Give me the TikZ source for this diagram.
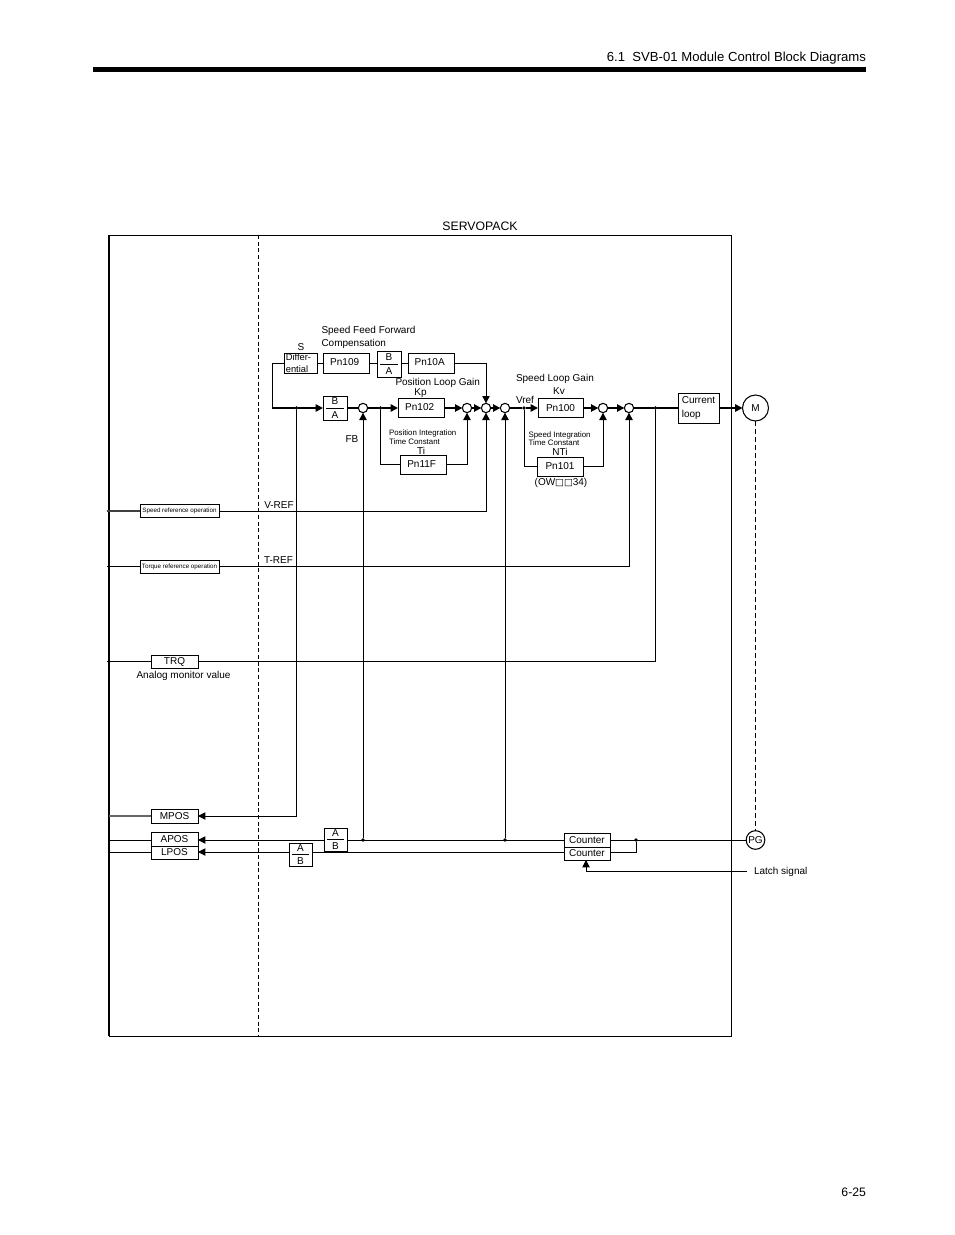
\documentclass[tikz,border=0pt]{standalone}
\usepackage{fontspec}
\setmainfont{Liberation Sans}
\newfontfamily\symfont{DejaVu Sans}
\usetikzlibrary{arrows.meta}
\newcommand\fsz[1]{\fontsize{#1}{#1}\selectfont}
\newcommand\nudge[1]{\raisebox{1.3pt}{#1}\hspace{2pt}}
\tikzset{
  base/.style={line width=0.75pt},
  thickline/.style={line width=1.2pt},
  arrow/.style={-{Triangle[length=5.5pt,width=5.5pt]}},
  box/.style={draw,fill=white,line width=0.7pt,inner sep=0pt,outer sep=0pt,align=left,font=\fsz{7.5}},
  fracbox/.style={box,align=center,font=\fsz{7.5},path picture={\draw[line width=0.6pt] ([xshift=-6.5pt]path picture bounding box.center) -- ([xshift=6.5pt]path picture bounding box.center);}},
  junction/.style={circle,draw,fill=white,line width=0.8pt,inner sep=0pt,outer sep=0pt,minimum size=7pt},
  dotn/.style={circle,fill=black,inner sep=0pt,outer sep=0pt,minimum size=2.8pt},
  lbl/.style={inner sep=0pt,outer sep=0pt,font=\fsz{7.5},align=center,yshift=-0.6pt},
  lblsmall/.style={lbl,font=\fsz{5.9}},
  lbllarge/.style={lbl,font=\fsz{9.2}},
  lblhead/.style={lbl,font=\fsz{9.85}},
  motor/.style={circle,draw,fill=white,line width=0.8pt,inner sep=0pt,outer sep=0pt,font=\fsz{7.5}},
}
\newcommand\bx[7][box]{\node[#1,minimum width={(#5-#3)*0.75pt},minimum height={(#6-#4)*0.75pt}] (#2) at ({(#3+#5)/2},{(#4+#6)/2}) {#7};}
\begin{document}
\begin{tikzpicture}[x=0.75pt,y=-0.75pt]
\useasboundingbox (0,0) rectangle (954,1235);
\fill[white] (0,0) rectangle (954,1235);
% page furniture
\node[lblhead,anchor=east] (header) at (866,57) {6.1\ \ SVB-01 Module Control Block Diagrams};
\fill[black] (93,67) rectangle (866,72);
\node[lbllarge,anchor=east] (pageno) at (866,1191) {6-25};
% frame
\draw[line width=0.75pt] (109,235) -- (731,235) -- (731,1036) -- (109,1036);
\draw[line width=1.5pt] (109,235) -- (109,1036);
\draw[line width=0.75pt,dash pattern=on 3pt off 2pt] (258.5,235) -- (258.5,1036);
\node[lbllarge] (servopack) at (480,225) {SERVOPACK};
% top row
\bx{diff}{284}{353}{317}{373}{\raisebox{-3.4pt}{\hspace{1pt}\parbox{23pt}{\fsz{7}\baselineskip=9.3pt Differ-\\ential}}}
\bx{pn109}{323}{353}{369}{373}{\nudge{Pn109}}
\bx[fracbox]{ba1}{377}{351}{401}{377}{B\\[2.5pt]A}
\bx{pn10a}{408}{353}{454}{373}{\nudge{Pn10A}}
% main row
\bx[fracbox]{ba2}{323}{396}{347}{420}{B\\[2.5pt]A}
\bx{pn102}{398}{398.5}{444}{417.5}{\nudge{Pn102}}
\bx{pn11f}{400}{455}{446}{474}{\nudge{Pn11F}}
\bx{pn100}{538}{398.5}{583}{417.5}{Pn100}
\bx{pn101}{537}{457}{583}{476}{Pn101}
\bx{cloop}{678}{393}{719}{423}{Current\\[3pt]loop}
\node[junction] (j1) at (363,408) {};
\node[junction] (j2) at (467,408) {};
\node[junction] (j3) at (486,408) {};
\node[junction] (j4) at (505,408) {};
\node[junction] (j5) at (603,408) {};
\node[junction] (j6) at (629,408) {};
\node[motor,minimum size=19.5pt] (m) at (755.5,408) {M};
\node[motor,minimum size=14pt] (pg) at (755.5,840) {PG};
% left column boxes
\bx{vbox}{140}{504}{219}{517}{\fsz{4.7}Speed reference operation}
\bx{tbox}{140}{560}{219}{573}{\fsz{4.7}Torque reference operation}
\bx{trq}{151}{655}{198}{668}{TRQ}
\bx{mpos}{151}{809}{198}{823}{MPOS}
\bx{apos}{151}{832}{198}{846}{APOS}
\bx{lpos}{151}{846}{198}{859}{LPOS}
\bx[fracbox]{ab1}{324}{828}{347}{851}{A\\[2.5pt]B}
\bx[fracbox]{ab2}{289}{843}{312}{866}{A\\[2.5pt]B}
\bx{cnt1}{564}{833}{610}{847}{Counter}
\bx{cnt2}{564}{847}{610}{860}{Counter}
% dots and free ends
\node[dotn] (d1) at (296.5,408) {};
\node[dotn] (d2) at (380.5,408) {};
\node[dotn] (d3) at (524,408) {};
\node[dotn] (d4) at (655.5,408) {};
\node[dotn] (d5) at (363,840) {};
\node[dotn] (d6) at (505,840) {};
\node[dotn] (d7) at (636,840) {};
\coordinate (corner) at (272,408);
\coordinate (vleft) at (107,511);
\coordinate (tleft) at (107,566);
\coordinate (qleft) at (107,661);
\coordinate (mleft) at (109,816);
\coordinate (aleft) at (109,840);
\coordinate (lleft) at (109,852);
\coordinate (lat) at (747,871);
% top branch
\draw[base] (corner) |- (diff.west);
\draw[base] (diff) -- (pn109);
\draw[base] (pn109.east) -- (ba1.west |- pn109.east);
\draw[base] (ba1.east |- pn10a.west) -- (pn10a.west);
\draw[base,arrow] (pn10a.east) -| (j3);
% main line
\draw[thickline] (corner) -- (d1);
\draw[thickline,arrow] (d1) -- (ba2);
\draw[thickline] (ba2) -- (j1);
\draw[thickline] (j1) -- (d2);
\draw[thickline,arrow] (d2) -- (pn102);
\draw[thickline,arrow] (pn102) -- (j2);
\draw[thickline,arrow] (j2) -- (j3);
\draw[thickline,arrow] (j3) -- (j4);
\draw[thickline] (j4) -- (d3);
\draw[thickline,arrow] (d3) -- (pn100);
\draw[thickline,arrow] (pn100) -- (j5);
\draw[thickline,arrow] (j5) -- (j6);
\draw[thickline] (j6) -- (d4);
\draw[thickline] (d4) -- (cloop);
\draw[thickline,arrow] (cloop) -- (m);
% integrator branches
\draw[base] (d2) |- (pn11f.west);
\draw[base,arrow] (pn11f.east) -| (j2);
\draw[base] (d3) |- (pn101.west);
\draw[base,arrow] (pn101.east) -| (j5);
% reference lines
\draw[line width=1pt,draw=black!75] (vleft) -- (vbox.west |- vleft);
\draw[base,arrow] (vbox.east |- vleft) -| (j3);
\draw[base] (tleft) -- (tbox.west |- tleft);
\draw[base,arrow] (tbox.east |- tleft) -| (j6);
\draw[base] (qleft) -- (trq.west |- qleft);
\draw[base] (trq.east |- qleft) -| (d4);
% feedback
\draw[base,arrow] (d1) |- (mpos.east |- mleft);
\draw[line width=1pt,draw=black!60] (mleft) -- (mpos.west |- mleft);
\draw[base,arrow] (d5) -- (j1);
\draw[base,arrow] (d6) -- (j4);
\draw[base] (aleft) -- (apos.west |- aleft);
\draw[base] (lleft) -- (lpos.west |- lleft);
\draw[base,arrow] (ab1.west |- aleft) -- (apos.east |- aleft);
\draw[base] (cnt1.west |- aleft) -- (ab1.east |- aleft);
\draw[base,arrow] (ab2.west |- lleft) -- (lpos.east |- lleft);
\draw[base] (cnt2.west |- lleft) -- (ab2.east |- lleft);
\draw[base] (cnt1.east |- aleft) -- (pg.west |- aleft);
\draw[base] (cnt2.east |- lleft) -| (d7);
\draw[base,arrow] (lat) -| ([xshift=-0.75pt]cnt2.south);
\draw[base,dash pattern=on 3.5pt off 2.5pt] (m) -- (pg);
% labels
\node[lbl] (slab) at (301,346) {S};
\node[lbl,anchor=west] (sff1) at (321.5,330.5) {Speed Feed Forward};
\node[lbl,anchor=west] (sff2) at (321.5,343.5) {Compensation};
\node[lbl,anchor=west] (plg) at (395.5,382.5) {Position Loop Gain};
\node[lbl] (kp) at (420.5,392.5) {Kp};
\node[lblsmall,anchor=west] (pit1) at (389,432.5) {Position Integration};
\node[lblsmall,anchor=west] (pit2) at (389,440.5) {Time Constant};
\node[lbl] (ti) at (421,450.5) {Ti};
\node[lbl] (fb) at (352,438.5) {FB};
\node[lbl,anchor=west] (slg) at (516,378.5) {Speed Loop Gain};
\node[lbl] (kv) at (559,390.5) {Kv};
\node[lbl,anchor=west] (vref) at (516,399.5) {Vref};
\node[lblsmall,anchor=west] (sit1) at (528.5,434.5) {Speed Integration};
\node[lblsmall,anchor=west] (sit2) at (528.5,441.5) {Time Constant};
\node[lbl] (nti) at (560,451) {NTi};
\node[lbl] (ow) at (561,482.5) {(OW{\symfont\fsz{7}□□}34)};
\node[lbl] (vreflab) at (279,504.5) {V-REF};
\node[lbl] (treflab) at (278.5,559.5) {T-REF};
\node[lbl] (amv) at (183.5,675.5) {Analog monitor value};
\node[lbl,anchor=west] (latch) at (754,871.5) {Latch signal};
\end{tikzpicture}
\end{document}
